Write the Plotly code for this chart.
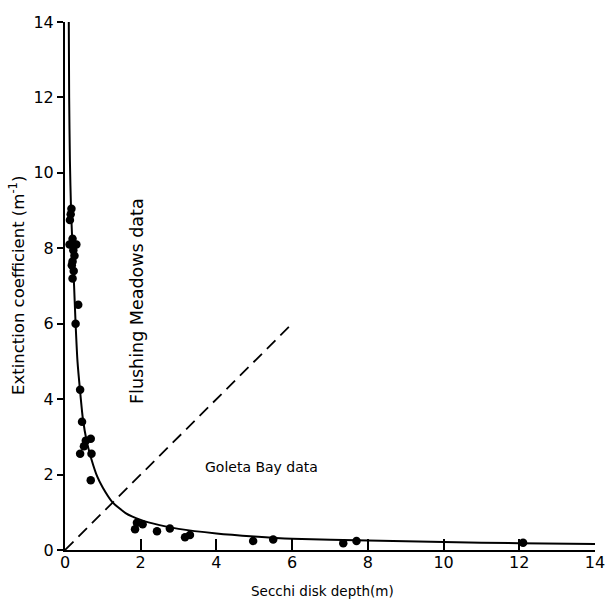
import plotly.graph_objects as go

# Flushing Meadows data (Secchi depth m, extinction coefficient 1/m)
fm_depth = [0.17, 0.15, 0.13, 0.12, 0.20, 0.30, 0.22, 0.25, 0.20, 0.18, 0.23, 0.20, 0.35, 0.28,
            0.40, 0.45, 0.50, 0.55, 0.68, 0.40, 0.70, 0.68]
fm_ext = [9.05, 8.9, 8.75, 8.1, 8.25, 8.1, 7.95, 7.8, 7.65, 7.55, 7.4, 7.2, 6.5, 6.0,
          4.25, 3.4, 2.75, 2.9, 2.95, 2.55, 2.55, 1.85]

# Goleta Bay data
gb_depth = [1.85, 1.9, 2.05, 2.43, 2.77, 3.17, 3.3, 4.97, 5.5, 7.35, 7.7, 12.1]
gb_ext = [0.55, 0.72, 0.68, 0.5, 0.57, 0.34, 0.4, 0.24, 0.28, 0.18, 0.24, 0.19]

# Fitted curve
curve_x = [0.1, 0.11, 0.13, 0.16, 0.2, 0.24, 0.28, 0.33, 0.4, 0.47, 0.57, 0.7, 0.85, 1.0,
           1.25, 1.6, 2.0, 2.5, 3.0, 4.0, 5.0, 6.0, 8.0, 10.0, 12.0, 14.0]
curve_y = [14.0, 12.0, 10.3, 9.0, 8.0, 7.0, 6.0, 5.0, 4.2, 3.5, 2.9, 2.4, 1.95, 1.65,
           1.27, 0.98, 0.8, 0.66, 0.56, 0.44, 0.36, 0.3, 0.25, 0.21, 0.18, 0.16]

# Dashed reference line
dash_x = [0, 6]
dash_y = [0, 6]

tick_vals = [0, 2, 4, 6, 8, 10, 12, 14]
tick_text = ["0", "2", "4", "6", "8", "10", "12", "14"]

FONT = "DejaVu Sans, Verdana, sans-serif"

fig = go.Figure()
fig.add_trace(go.Scatter(x=curve_x, y=curve_y, mode="lines",
                         line=dict(color="black", width=2, shape="spline", smoothing=0.6),
                         hoverinfo="skip", cliponaxis=False))
fig.add_trace(go.Scatter(x=dash_x, y=dash_y, mode="lines", line=dict(color="black", width=1.8, dash="12px,7px")))
fig.add_trace(go.Scatter(x=fm_depth, y=fm_ext, mode="markers", marker=dict(color="black", size=8.5), cliponaxis=False))
fig.add_trace(go.Scatter(x=gb_depth, y=gb_ext, mode="markers", marker=dict(color="black", size=8.5), cliponaxis=False))

fig.add_annotation(x=1.9, y=6.6, text="Flushing Meadows data", textangle=-90, showarrow=False,
                   font=dict(size=17.5, color="black", family=FONT))
fig.add_annotation(x=5.2, y=2.2, text="Goleta Bay data", showarrow=False,
                   font=dict(size=14, color="black", family=FONT))
fig.add_annotation(xref="paper", yref="paper", x=0.485, y=0, yshift=-41, yanchor="middle",
                   xanchor="center", text="Secchi disk depth(m)",
                   showarrow=False, font=dict(size=13.5, color="black", family=FONT))
fig.add_annotation(xref="paper", yref="paper", x=0, xshift=-48, y=0.5, xanchor="center", yanchor="middle",
                   text="Extinction coefficient (m<sup>-1</sup>)",
                   textangle=-90, showarrow=False, font=dict(size=16.5, color="black", family=FONT))

fig.update_layout(
    width=606, height=599,
    margin=dict(l=65, r=11, t=22, b=49, autoexpand=False),
    paper_bgcolor="white", plot_bgcolor="white",
    showlegend=False,
    font=dict(family=FONT, color="black", size=16),
    xaxis=dict(range=[0, 14], tickvals=tick_vals, ticktext=tick_text, ticks="inside", ticklen=11,
               tickwidth=1.5, tickcolor="black", showline=True, linecolor="black", linewidth=2,
               showgrid=False, zeroline=False, automargin=False, ticklabelstandoff=-3,
               tickfont=dict(size=16, family=FONT)),
    yaxis=dict(range=[0, 14], tickvals=tick_vals, ticktext=tick_text, ticks="outside", ticklen=6,
               tickwidth=1.5, tickcolor="black", showline=True, linecolor="black", linewidth=2,
               showgrid=False, zeroline=False, automargin=False, ticklabelstandoff=0,
               tickfont=dict(size=16, family=FONT)),
)

fig.write_html("out.html", config={"displayModeBar": False},
               post_script="document.body.style.margin='0';document.body.style.overflow='hidden';")
